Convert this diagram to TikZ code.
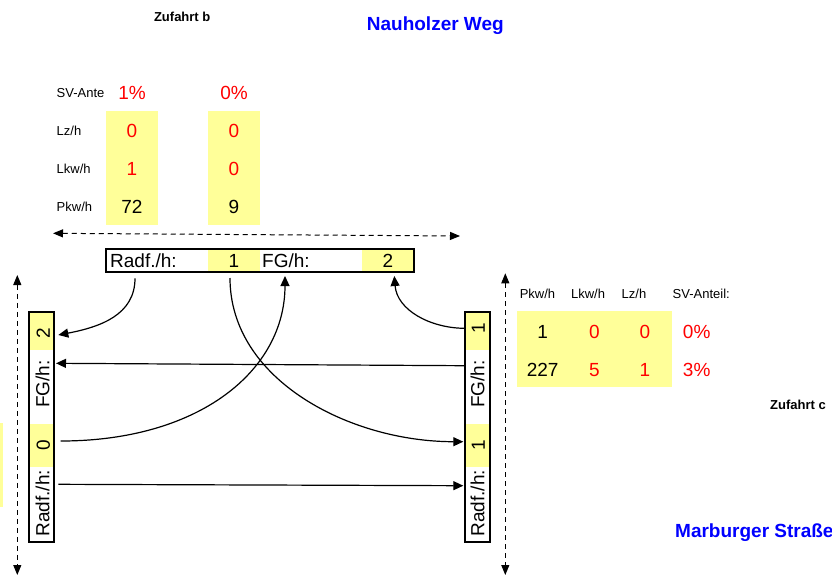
\documentclass[tikz,border=0pt]{standalone}
\usepackage{fontspec}
\setmainfont{Liberation Sans}
\usetikzlibrary{arrows.meta,calc}
\definecolor{cellyellow}{RGB}{255,255,153}
\definecolor{redval}{RGB}{255,0,0}
\definecolor{bluetitle}{RGB}{0,0,255}
\begin{document}
\begin{tikzpicture}[x=1pt,y=-1pt,
  big/.style={font=\fontsize{19}{22}\selectfont, inner sep=0pt, text height=13.6pt, text depth=0pt},
  small/.style={font=\fontsize{13}{15}\selectfont, inner sep=0pt, text height=9.3pt, text depth=0pt},
  bigbold/.style={font=\fontsize{19}{22}\selectfont\bfseries, inner sep=0pt, text height=13.6pt, text depth=0pt, text=bluetitle},
  smallbold/.style={font=\fontsize{13}{15}\selectfont\bfseries, inner sep=0pt, text height=9.3pt, text depth=0pt},
  redtxt/.style={big, text=redval},
  cell/.style={fill=cellyellow, draw=none, inner sep=0pt, outer sep=0pt},
  framebox/.style={draw=black, line width=2pt, inner sep=0pt, outer sep=0pt},
  conn/.style={line width=1.2pt, -{Triangle[length=10pt,width=9pt]}},
  dasharrow/.style={line width=1pt, dash pattern=on 5pt off 4pt,
    {Triangle[length=10pt,width=8pt]}-{Triangle[length=10pt,width=8pt]}}
]
\useasboundingbox (0,0) rectangle (832,576);

% titles
\node[smallbold] (zb) at (182.2,17.3) {Zufahrt b};
\node[bigbold] (nw) at (435.3,23.7) {Nauholzer Weg};
\node[smallbold, anchor=west] (zc) at (770,405.3) {Zufahrt c};
\node[bigbold, anchor=west] (ms) at (675,531) {Marburger Straße};

% left edge fragment
\node[cell, minimum width=2.7pt, minimum height=83.4pt] (edge) at (1.35,465) {};

% top table (Zufahrt b)
\node[cell, minimum width=51.7pt, minimum height=114pt] (col1) at (131.85,168) {};
\node[cell, minimum width=51.7pt, minimum height=114pt] (col2) at (233.85,168) {};
\node[small, anchor=west] (lsv) at (56.5,92.7) {SV-Ante};
\node[small, anchor=west] (llz) at (56.5,130.7) {Lz/h};
\node[small, anchor=west] (llkw) at (56.5,169) {Lkw/h};
\node[small, anchor=west] (lpkw) at (56.5,206.7) {Pkw/h};
\node[redtxt] (v11) at (132,92.7) {1\%};
\node[redtxt] (v21) at (234,92.7) {0\%};
\node[redtxt] (v12) at (132,130.7) {0};
\node[redtxt] (v22) at (234,130.7) {0};
\node[redtxt] (v13) at (132,169) {1};
\node[redtxt] (v23) at (234,169) {0};
\node[big] (v14) at (132,206.7) {72};
\node[big] (v24) at (234,206.7) {9};

% right table (Zufahrt c)
\node[cell, minimum width=155pt, minimum height=76.3pt] (rtab) at (594.2,349.15) {};
\node[small] (hp) at (537.5,294) {Pkw/h};
\node[small] (hl) at (588,294) {Lkw/h};
\node[small] (hz) at (634,294) {Lz/h};
\node[small, anchor=west] (hs) at (672.5,294) {SV-Anteil:};
\node[big] (r11) at (542.7,331.7) {1};
\node[redtxt] (r12) at (594.3,331.7) {0};
\node[redtxt] (r13) at (645,331.7) {0};
\node[redtxt] (r14) at (696.7,331.7) {0\%};
\node[big] (r21) at (542.7,370) {227};
\node[redtxt] (r22) at (594.3,370) {5};
\node[redtxt] (r23) at (645,370) {1};
\node[redtxt] (r24) at (696.7,370) {3\%};

% top box
\node[cell, minimum width=51.7pt, minimum height=23pt] (tc1) at (234.15,260.8) {};
\node[cell, minimum width=51pt, minimum height=23pt] (tc2) at (387.8,260.8) {};
\node[framebox, minimum width=307.7pt, minimum height=23pt] (topbox) at (260.15,260.8) {};
\node[big, anchor=west] (tr) at (110,260.8) {Radf./h:};
\node[big] (tv1) at (234,260.8) {1};
\node[big, anchor=west] (tf) at (262,260.8) {FG/h:};
\node[big] (tv2) at (387.8,260.8) {2};

% left box
\node[cell, minimum width=25.6pt, minimum height=38.3pt] (lc1) at (41.5,330.85) {};
\node[cell, minimum width=25.6pt, minimum height=43.3pt] (lc2) at (41.5,445.65) {};
\node[framebox, minimum width=25.6pt, minimum height=230.6pt] (leftbox) at (41.5,427) {};
\node[big, rotate=90] (lv2) at (43,333) {2};
\node[big, rotate=90] (lf) at (42.5,384.2) {FG/h:};
\node[big, rotate=90] (lv1) at (43,445.7) {0};
\node[big, rotate=90] (lr) at (42.5,503.3) {Radf./h:};

% right box
\node[cell, minimum width=24.7pt, minimum height=38.3pt] (rc1) at (477.65,330.85) {};
\node[cell, minimum width=24.7pt, minimum height=43.3pt] (rc2) at (477.65,445.65) {};
\node[framebox, minimum width=24.7pt, minimum height=230.6pt] (rightbox) at (477.65,427) {};
\node[big, rotate=90] (rv2) at (478,328.3) {1};
\node[big, rotate=90] (rf) at (477.5,384.2) {FG/h:};
\node[big, rotate=90] (rv1) at (478,445.5) {1};
\node[big, rotate=90] (rr) at (477.5,503.3) {Radf./h:};

% connector end points on the boxes
\coordinate (c1s) at ($(topbox.south west)+(28.7,6)$);
\coordinate (c1e) at ($(leftbox.north east)+(4,23.3)$);
\coordinate (c2s) at ($(rightbox.north west)+(-1,54)$);
\coordinate (c2e) at ($(leftbox.north east)+(1.7,51.6)$);
\coordinate (c3s) at ($(leftbox.north east)+(6.4,129.3)$);
\coordinate (c3e) at ($(topbox.south west)+(178.7,3.7)$);
\coordinate (c4s) at ($(topbox.south west)+(123.7,5.7)$);
\coordinate (c4e) at ($(rightbox.north west)+(-2,130)$);
\coordinate (c5s) at ($(leftbox.north east)+(4,172.6)$);
\coordinate (c5e) at ($(rightbox.north west)+(-2,174)$);
\coordinate (c6s) at ($(rightbox.north west)+(-1,16.6)$);
\coordinate (c6e) at ($(topbox.south west)+(288,3.7)$);

\draw[conn] (c1s) .. controls (135,315) and (100,327) .. (c1e);
\draw[conn] (c2s) -- (c2e);
\draw[conn] (c3s) .. controls (200,441) and (285,370) .. (c3e);
\draw[conn] (c4s) .. controls (230,380) and (350,441.7) .. (c4e);
\draw[conn] (c5s) -- (c5e);
\draw[conn] (c6s) .. controls (430,328) and (397,310) .. (c6e);

% dashed road-edge arrows
\coordinate (dhl) at (53,233.3);
\coordinate (dhr) at (460,236);
\coordinate (dvl1) at (17.3,275);
\coordinate (dvl2) at (17.3,575);
\coordinate (dvr1) at (505.3,273.3);
\coordinate (dvr2) at (505.3,575);
\draw[dasharrow] (dhl) -- (dhr);
\draw[dasharrow] (dvl1) -- (dvl2);
\draw[dasharrow] (dvr1) -- (dvr2);
\end{tikzpicture}
\end{document}
